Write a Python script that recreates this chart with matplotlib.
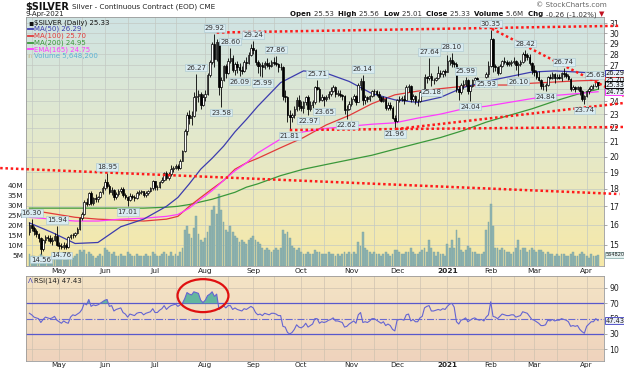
import numpy as np
import pandas as pd
import matplotlib
matplotlib.use('Agg')
import matplotlib.pyplot as plt
import matplotlib.colors as mcolors
import matplotlib.transforms as mtrans
from matplotlib.patches import Ellipse
from matplotlib.ticker import NullLocator, NullFormatter

plt.rcParams['font.family'] = ['DejaVu Sans']

# ---------------- data ----------------
first_day, last_day = '2020-04-14', '2021-04-09'
holidays = ['2020-05-25', '2020-07-03', '2020-09-07', '2020-11-26', '2020-12-25',
            '2021-01-01', '2021-01-18', '2021-02-15', '2021-04-02']

# daily (open, high, low, close)
apr20 = [(15.65,16.15,15.50,16.00),(16.00,16.30,15.70,15.85),(15.85,15.95,15.50,15.70),
         (15.70,15.80,15.35,15.55),(15.55,15.60,15.10,15.30),(15.30,15.35,14.56,14.80),
         (14.80,15.25,14.70,15.20),(15.20,15.45,15.05,15.35),(15.35,15.50,15.15,15.30),
         (15.30,15.45,15.05,15.15),(15.15,15.35,15.00,15.20),(15.20,15.60,15.15,15.40),
         (15.40,15.94,14.95,15.00)]
may20 = [(15.00,15.10,14.80,14.95),(14.95,15.05,14.76,14.90),(14.90,15.10,14.80,15.00),
         (15.00,15.05,14.80,14.90),(14.90,15.40,14.85,15.35),(15.35,15.55,15.25,15.50),
         (15.50,15.60,15.30,15.45),(15.45,15.65,15.35,15.60),(15.60,15.90,15.55,15.80),
         (15.80,16.40,15.75,16.35),(16.35,16.70,16.25,16.60),(16.60,17.35,16.55,17.25),
         (17.25,17.45,17.00,17.15),(17.15,17.80,17.10,17.75),(17.75,17.85,17.05,17.20),
         (17.20,17.55,17.10,17.45),(17.45,17.70,17.25,17.40),(17.40,17.60,17.25,17.55),
         (17.55,17.85,17.45,17.80),(17.80,18.20,17.70,18.05)]
jun20 = [(18.05,18.60,17.95,18.40),(18.40,18.95,18.05,18.20),(18.20,18.30,17.70,17.80),
         (17.80,18.10,17.65,17.95),(17.95,18.00,17.35,17.50),(17.50,17.80,17.40,17.70),
         (17.70,18.00,17.60,17.85),(17.85,18.10,17.75,18.00),(18.00,18.10,17.55,17.65),
         (17.65,17.75,17.40,17.55),(17.55,17.60,17.01,17.35),(17.35,17.75,17.30,17.60),
         (17.60,17.70,17.40,17.50),(17.50,17.65,17.30,17.45),(17.45,17.85,17.40,17.75),
         (17.75,17.95,17.65,17.80),(17.80,17.95,17.70,17.85),(17.85,17.90,17.55,17.65),
         (17.65,17.85,17.55,17.75),(17.75,17.95,17.65,17.85),(17.85,18.10,17.80,18.05),
         (18.05,18.55,17.95,18.45)]
jul20 = [(18.45,18.50,17.95,18.10),(18.10,18.25,17.95,18.10),(18.10,18.45,18.05,18.40),
         (18.40,18.70,18.35,18.55),(18.55,19.05,18.50,18.95),(18.95,19.10,18.55,18.65),
         (18.65,19.00,18.55,18.90),(18.90,19.45,18.80,19.20),(19.20,19.40,19.05,19.30),
         (19.30,19.55,19.20,19.40),(19.40,19.50,19.15,19.25),(19.25,19.85,19.20,19.75),
         (19.75,20.45,19.70,20.35),(20.35,21.90,20.30,21.75),(21.75,23.15,21.50,22.95),
         (22.95,23.30,22.30,22.70),(22.70,23.20,22.20,22.85),(22.85,24.70,22.80,24.35),
         (24.35,26.27,23.20,24.40),(24.40,24.90,23.90,24.55),(24.55,24.70,23.40,23.70),
         (23.70,24.60,23.60,24.30)]
aug20 = [(24.30,24.90,24.00,24.55),(24.55,26.30,24.50,26.15),(26.15,27.50,26.00,27.30),
         (27.30,29.10,27.10,28.90),(28.90,29.92,26.80,27.55),(27.55,29.40,27.40,29.15),
         (29.15,29.25,24.50,25.10),(25.10,26.00,23.58,25.70),(25.70,27.00,25.60,26.90),
         (26.90,27.10,25.90,26.30),(26.30,27.60,26.20,27.40),(27.40,28.60,27.20,27.60),
         (27.60,27.90,26.40,26.60),(26.60,27.30,26.15,27.10),(27.10,27.40,26.30,26.80),
         (26.80,27.20,26.09,26.60),(26.60,26.90,26.20,26.45),(26.45,27.50,26.40,27.30),
         (27.30,27.70,26.70,27.20),(27.20,28.20,27.10,27.90),(27.90,28.90,27.80,28.60)]
sep20 = [(28.60,29.24,28.00,28.40),(28.40,28.50,27.00,27.30),(27.30,27.50,26.30,26.90),
         (26.90,27.20,26.10,27.00),(27.00,27.30,25.99,26.80),(26.80,27.40,26.70,27.20),
         (27.20,27.60,26.80,27.00),(27.00,27.30,26.70,26.90),(26.90,27.50,26.85,27.30),
         (27.30,27.70,27.00,27.20),(27.20,27.86,26.90,27.10),(27.10,27.20,26.40,26.80),
         (26.80,27.20,26.60,26.85),(26.85,26.90,24.10,24.40),(24.40,24.90,23.90,24.30),
         (24.30,24.40,22.40,22.90),(22.90,23.30,21.81,22.80),(22.80,23.10,22.40,22.90),
         (22.90,23.60,22.70,23.40),(23.40,24.30,23.20,24.10),(24.10,24.50,23.30,23.60)]
oct20 = [(23.60,24.00,23.20,23.50),(23.50,24.00,23.10,23.90),(23.90,24.40,23.70,24.30),
         (24.30,24.50,22.97,23.40),(23.40,24.00,23.20,23.70),(23.70,24.10,23.50,23.90),
         (23.90,25.20,23.80,25.10),(25.10,25.71,24.90,25.00),(25.00,25.10,23.90,24.10),
         (24.10,24.60,24.00,24.30),(24.30,24.40,23.65,24.20),(24.20,24.50,24.00,24.30),
         (24.30,24.80,24.20,24.60),(24.60,25.10,24.40,24.80),(24.80,25.30,24.70,25.10),
         (25.10,25.20,24.30,24.60),(24.60,24.90,24.40,24.60),(24.60,24.90,24.30,24.50),
         (24.50,24.60,24.10,24.40),(24.40,24.50,23.00,23.30),(23.30,23.70,22.62,23.40),
         (23.40,24.00,23.30,23.80)]
nov20 = [(23.80,24.30,23.60,24.20),(24.20,24.60,24.00,24.40),(24.40,24.50,23.70,23.90),
         (23.90,25.50,23.90,25.30),(25.30,25.90,24.90,25.60),(25.60,26.14,23.70,24.10),
         (24.10,24.50,23.80,24.30),(24.30,24.40,23.90,24.20),(24.20,24.50,24.00,24.40),
         (24.40,24.90,24.30,24.80),(24.80,25.00,24.40,24.80),(24.80,24.90,24.40,24.60),
         (24.60,24.80,24.10,24.30),(24.30,24.40,23.90,24.00),(24.00,24.40,23.90,24.20),
         (24.20,24.30,23.30,23.50),(23.50,23.90,23.30,23.70),(23.70,23.90,23.30,23.50),
         (23.50,23.60,22.60,22.70),(22.70,22.90,21.96,22.50)]
dec20 = [(22.50,24.20,22.40,24.10),(24.10,24.40,23.90,24.20),(24.20,24.40,24.00,24.20),
         (24.20,24.50,23.80,24.10),(24.10,25.30,24.10,25.10),(25.10,25.40,24.70,25.20),
         (25.20,25.30,23.90,24.20),(24.20,24.60,24.00,24.40),(24.40,24.50,23.80,24.00),
         (24.00,24.20,23.60,24.00),(24.00,24.80,23.90,24.70),(24.70,25.00,24.40,24.90),
         (24.90,26.20,24.80,26.00),(26.00,26.10,25.50,25.90),(25.90,27.64,25.70,26.10),
         (26.10,26.30,25.18,25.70),(25.70,25.90,25.40,25.70),(25.70,26.00,25.60,25.90),
         (25.90,26.90,25.80,26.30),(26.30,26.60,26.00,26.20),(26.20,26.60,26.00,26.50),
         (26.50,26.70,26.10,26.40)]
jan21 = [(26.40,27.90,26.40,27.40),(27.40,27.70,27.00,27.50),(27.50,28.10,26.80,27.20),
         (27.20,27.40,26.80,27.10),(27.10,27.30,24.70,25.00),(25.00,25.20,24.10,24.70),
         (24.70,25.50,24.60,25.30),(25.30,25.70,25.00,25.40),(25.40,25.99,25.20,25.70),
         (25.70,25.80,24.60,24.80),(24.80,25.30,24.04,25.20),(25.20,25.80,25.10,25.70),
         (25.70,25.95,25.50,25.90),(25.90,26.00,25.30,25.50),(25.50,25.70,25.10,25.30),
         (25.30,25.60,25.20,25.40),(25.40,25.60,25.10,25.30),(26.00,26.40,25.93,26.20),
         (26.20,27.40,26.00,26.90)]
feb21 = [(26.90,30.35,26.80,29.40),(29.40,29.50,26.40,26.90),(26.90,27.10,26.50,26.80),
         (26.80,26.90,26.15,26.30),(26.30,27.10,26.20,26.90),(26.90,27.50,26.80,27.40),
         (27.40,27.70,27.10,27.30),(27.30,27.50,26.90,27.10),(27.10,27.40,26.90,27.20),
         (27.20,27.50,26.90,27.30),(27.30,27.70,27.10,27.40),(27.40,27.50,26.60,27.00),
         (27.00,27.30,26.10,27.10),(27.10,27.50,26.90,27.30),(27.30,28.20,27.20,28.00),
         (28.00,28.42,27.40,27.90),(27.90,28.10,27.50,27.70),(27.70,28.00,27.00,27.20),
         (27.20,27.30,26.20,26.60)]
mar21 = [(26.60,27.00,26.10,26.40),(26.40,26.60,25.80,26.00),(26.00,26.50,25.60,25.70),
         (25.70,25.80,25.00,25.20),(25.20,25.50,24.90,25.20),(25.20,25.50,24.84,25.30),
         (25.30,26.10,25.20,26.00),(26.00,26.20,25.80,25.90),(25.90,26.40,25.80,26.20),
         (26.20,26.30,25.50,25.90),(25.90,26.20,25.80,26.00),(26.00,26.20,25.80,25.90),
         (25.90,26.40,25.60,26.30),(26.30,26.74,26.00,26.20),(26.20,26.40,25.90,26.10),
         (26.10,26.20,25.70,25.80),(25.80,25.90,24.80,25.00),(25.00,25.30,24.90,25.10),
         (25.10,25.20,24.70,24.95),(24.95,25.20,24.90,25.10),(25.10,25.20,24.50,24.80),
         (24.80,24.90,24.00,24.20),(24.20,24.50,23.74,24.40)]
apr21 = [(24.40,24.90,24.30,24.80),(24.80,25.10,24.60,24.95),(24.95,25.30,24.90,25.20),
         (25.20,25.40,25.00,25.20),(25.20,25.63,25.10,25.59),(25.53,25.56,25.01,25.33)]

# daily volume, millions
vol_apr20 = [6,5,5,4,5,6,5,4,4,4,3,4,5]
vol_may20 = [4,4,3,3,4,5,4,5,6,8,7,8,6,7,6,5,4,5,6,5]
vol_jun20 = [9,8,7,6,7,5,5,6,5,5,7,6,5,5,6,5,5,5,6,5,5,7]
vol_jul20 = [6,5,5,6,7,6,5,7,5,6,5,7,9,18,20,16,14,19,25,16,13,12]
vol_aug20 = [14,17,20,28,30,26,36,28,22,18,17,20,17,15,14,12,13,12,11,13,14]
vol_sep20 = [15,13,12,11,9,8,9,8,7,8,9,8,9,18,16,17,14,10,9,8,9]
vol_oct20 = [7,6,6,7,6,6,8,7,7,6,6,6,7,6,6,5,6,5,6,7,6,7]
vol_nov20 = [6,7,6,12,10,17,9,8,7,6,7,6,6,5,6,7,6,5,6,8]
vol_dec20 = [8,7,6,6,7,7,9,7,6,6,7,8,9,7,13,9,7,5,7,6,6,5]
vol_jan21 = [11,9,13,9,18,14,8,7,8,10,9,7,7,6,6,6,7,18,22]
vol_feb21 = [31,20,9,9,8,9,8,7,7,6,7,9,13,8,9,9,7,8,9]
vol_mar21 = [8,7,8,8,7,6,7,6,6,5,6,5,6,6,5,5,6,7,5,5,6,7,6]
vol_apr21 = [5,4,6,5,5,5.6482]

# RSI(14) read daily
rsi_apr20 = [57,55,52,51,50,45,49,52,51,50,51,53,48]
rsi_may20 = [46,44,47,45,44,52,55,54,56,58,62,70,68,75,66,68,67,68,70,72]
rsi_jun20 = [74,75,66,67,60,62,63,64,58,56,52,56,55,54,57,58,58,55,57,58,59,63]
rsi_jul20 = [58,58,61,63,67,62,65,67,68,69,66,68,70,76,84,82,81,85,84,83,74,71]
rsi_aug20 = [74,80,82,85,79,82,62,64,67,64,67,67,62,64,62,61,60,63,62,64,66]
rsi_sep20 = [64,58,55,56,54,57,56,55,57,57,56,54,54,40,39,32,30,32,36,42,39]
rsi_oct20 = [38,40,44,39,41,43,50,50,44,46,45,46,48,49,51,47,47,46,45,39,40,43]
rsi_nov20 = [45,47,44,55,58,45,46,45,47,50,50,48,46,44,46,41,43,41,36,34]
rsi_dec20 = [48,49,49,48,55,56,47,49,46,46,51,53,64,66,67,60,60,61,62,61,63,62]
rsi_jan21 = [66,69,70,65,46,43,48,49,51,46,48,50,51,49,48,49,47,52,55]
rsi_feb21 = [72,53,52,50,53,56,55,54,54,55,55,52,53,54,59,58,57,53,49]
rsi_mar21 = [48,46,44,41,41,42,48,47,49,47,48,48,50,49,48,46,40,41,40,41,36,33,31]
rsi_apr21 = [40,43,46,46,50,47.43]

# moving averages read at sample dates
ma_dates = ['2020-04-14','2020-04-28','2020-05-12','2020-05-27','2020-06-10','2020-06-24',
            '2020-07-09','2020-07-16','2020-07-23','2020-07-30','2020-08-06','2020-08-13',
            '2020-08-20','2020-08-27','2020-09-03','2020-09-18','2020-10-02','2020-10-16',
            '2020-10-30','2020-11-13','2020-11-30','2020-12-14','2020-12-29','2021-01-13',
            '2021-01-28','2021-02-11','2021-02-26','2021-03-12','2021-03-26','2021-04-09']
ma50 = [16.1,15.6,15.05,15.1,15.9,16.3,17.0,17.5,18.3,19.2,19.9,20.7,21.7,22.6,23.6,25.5,
        26.5,26.3,25.6,24.6,24.1,23.9,24.3,25.1,25.6,26.0,26.4,26.5,26.4,26.29]
ma100 = [16.8,16.6,16.4,16.3,16.25,16.2,16.3,16.45,17.0,17.5,18.0,18.5,19.2,19.6,19.9,20.6,
         21.3,22.2,22.9,23.8,24.5,24.8,25.0,25.2,25.3,25.3,25.45,25.55,25.65,25.70]
ma200 = [16.9,16.9,16.9,16.9,16.9,16.9,16.95,17.0,17.1,17.25,17.4,17.6,17.8,18.1,18.3,18.8,
         19.2,19.5,19.8,20.1,20.5,20.9,21.3,21.8,22.4,22.9,23.4,24.0,24.55,24.95]
ema165 = [16.4,16.3,16.2,16.2,16.3,16.35,16.45,16.55,16.9,17.4,17.9,18.5,19.1,19.6,20.25,21.2,
          21.7,21.95,22.1,22.25,22.35,22.7,23.0,23.4,23.6,23.9,24.2,24.45,24.6,24.75]

# labelled highs / lows
label_dates = ['2020-04-15','2020-04-21','2020-04-30','2020-05-04','2020-06-02','2020-06-15',
               '2020-07-28','2020-08-07','2020-08-12','2020-08-18','2020-08-24','2020-09-01',
               '2020-09-08','2020-09-16','2020-09-24','2020-10-06','2020-10-12','2020-10-15',
               '2020-10-29','2020-11-09','2020-11-30','2020-12-21','2020-12-22','2021-01-06',
               '2021-01-14','2021-01-19','2021-01-28','2021-02-01','2021-02-18','2021-02-23',
               '2021-03-08','2021-03-18','2021-03-31','2021-04-08']
label_kinds = ['h','l','h','l','h','l','h','h','l','h','l','h','l','h','l','l','h','l',
               'l','h','l','h','l','h','h','l','l','h','l','h','l','h','l','h']

# analyst trend lines: (bar number, price) end points
trend_lines = [((82.0, 30.05), (258.4, 30.72)),
               ((202.5, 30.42), (260.2, 24.40)),
               ((114.0, 21.83), (260.2, 22.05)),
               ((160.5, 21.90), (260.2, 23.85)),
               ((-12.8, 19.27), (258.4, 17.70))]

# ---------------- assemble ----------------
dates = pd.bdate_range(first_day, last_day)
dates = dates[~dates.isin(pd.to_datetime(holidays))]
ohlc = np.array(apr20 + may20 + jun20 + jul20 + aug20 + sep20 + oct20 + nov20 + dec20
                + jan21 + feb21 + mar21 + apr21)
vol = np.array(vol_apr20 + vol_may20 + vol_jun20 + vol_jul20 + vol_aug20 + vol_sep20 + vol_oct20
               + vol_nov20 + vol_dec20 + vol_jan21 + vol_feb21 + vol_mar21 + vol_apr21, float)
rsi = np.array(rsi_apr20 + rsi_may20 + rsi_jun20 + rsi_jul20 + rsi_aug20 + rsi_sep20 + rsi_oct20
               + rsi_nov20 + rsi_dec20 + rsi_jan21 + rsi_feb21 + rsi_mar21 + rsi_apr21, float)
n = min(len(dates), len(ohlc), len(vol), len(rsi))
dates = dates[:n]; ohlc = ohlc[:n]; vol = vol[:n]; rsi = rsi[:n]
o, h, l, c = ohlc[:, 0], ohlc[:, 1], ohlc[:, 2], ohlc[:, 3]
x = np.arange(n)

def idx_of(ds):
    return dates.get_indexer(pd.to_datetime(ds))

ma_x = idx_of(ma_dates)

m = dates.month.values
month_starts = [i for i in range(1, n) if m[i] != m[i - 1]]
mid_months = [i for i in range(1, n) if dates[i].day >= 15 and dates[i - 1].day < 15]
grid_x = sorted(month_starts + mid_months)
month_labels = ['2021' if dates[i].month == 1 else dates[i].strftime('%b') for i in month_starts]

# ---------------- figure ----------------
W, H = 624, 372
fig = plt.figure(figsize=(W / 100, H / 100), dpi=100)
fig.patch.set_facecolor('white')
L, R = 26, 604
MT, MB = 17, 266
RT, RB = 276, 361

def rect(top, bottom):
    return [L / W, 1 - bottom / H, (R - L) / W, (bottom - top) / H]

def bg(rc, colors):
    a = fig.add_axes(rc)
    cmap = mcolors.LinearSegmentedColormap.from_list('g', colors)
    a.imshow(np.linspace(0, 1, 256).reshape(-1, 1), aspect='auto', cmap=cmap,
             extent=[0, 1, 0, 1], interpolation='bilinear')
    a.set_axis_off()
    return a

xlim = (-1.5, n + 1.6)
bg(rect(MT, MB), ['#cfe3e3', '#e4e9cb', '#f6e8a8'])
ax_v = fig.add_axes(rect(MT, MB))
ax_v.patch.set_visible(False)
ax_p = ax_v.twinx()
ax_v.set_xlim(*xlim)
ax_v.set_ylim(0, 124.5e6)
ax_p.set_yscale('log')
ax_p.set_ylim(13.98, 31.62)

gridc = '#c3c9c3'
price_ticks = list(range(15, 32))
bt = mtrans.blended_transform_factory(ax_v.transAxes, ax_p.transData)
for p in price_ticks:
    ax_v.plot([0, 1], [p, p], transform=bt, color=gridc, lw=0.5, zorder=0.5)
for gx in grid_x:
    ax_v.axvline(gx, color=gridc, lw=0.5, zorder=0.5)

ax_v.bar(x, vol * 1e6, width=0.8, color='#8fb4b1', edgecolor='#7da4a1', lw=0.3, zorder=2)

# moving averages
ax_p.plot(ma_x, ma200, color='#3a983a', lw=0.9, zorder=3)
ax_p.plot(ma_x, ma100, color='#e23a3a', lw=0.9, zorder=3)
ax_p.plot(ma_x, ema165, color='#ff3cff', lw=0.9, zorder=3)
ax_p.plot(ma_x, ma50, color='#3c3cae', lw=0.9, zorder=3)

# candles
ax_p.vlines(x, l, h, color='black', lw=0.6, zorder=4)
up = c >= o
bb = np.minimum(o, c)
bh = np.maximum(np.abs(c - o), 0.03)
ax_p.bar(x[up], bh[up], bottom=bb[up], width=0.7, facecolor='white', edgecolor='black', lw=0.5, zorder=5)
ax_p.bar(x[~up], bh[~up], bottom=bb[~up], width=0.7, facecolor='black', edgecolor='black', lw=0.5, zorder=5)

# trend lines
for (x0, y0), (x1, y1) in trend_lines:
    ax_p.plot([x0, x1], [y0, y1], color='#ff1a1a', lw=1.8, ls=(0, (1, 1.1)),
              clip_on=False, zorder=6, solid_capstyle='butt', dash_capstyle='butt')

# price labels
for d, k in zip(label_dates, label_kinds):
    i = idx_of([d])[0]
    v = h[i] if k == 'h' else l[i]
    ax_p.annotate(f'{v:.2f}', xy=(i, v), xytext=(0, 3 if k == 'h' else -3),
                  textcoords='offset pixels', ha='center', va='bottom' if k == 'h' else 'top',
                  fontsize=5.0, color='#333333', zorder=8,
                  bbox=dict(boxstyle='square,pad=0.12', fc='#d9ebf1', ec='#a8c6d0', lw=0.4))

# axes styling main
for s in ax_v.spines.values():
    s.set_color('#9a9a9a'); s.set_linewidth(0.6)
for s in ax_p.spines.values():
    s.set_visible(False)
vt = [5e6, 10e6, 15e6, 20e6, 25e6, 30e6, 35e6, 40e6]
ax_v.set_yticks(vt)
ax_v.set_yticklabels([f'{int(t / 1e6)}M' for t in vt])
ax_v.tick_params(axis='y', length=0, pad=2, labelsize=5.3, labelcolor='#222222')
ax_v.set_xticks(month_starts)
ax_v.set_xticklabels(month_labels)
ax_v.tick_params(axis='x', length=0, pad=1.5, labelsize=5.4, labelcolor='#222222')
for t in ax_v.get_xticklabels():
    if t.get_text() == '2021':
        t.set_fontweight('bold')
ax_p.yaxis.set_minor_locator(NullLocator())
ax_p.yaxis.set_minor_formatter(NullFormatter())
ax_p.set_yticks(price_ticks)
ax_p.set_yticklabels([str(t) for t in price_ticks])
ax_p.tick_params(axis='y', length=2, width=0.5, pad=2, labelsize=5.6, labelcolor='#222222', color='#888888')
ax_p.set_xlim(*xlim)

# right value boxes
rb = mtrans.blended_transform_factory(ax_p.transAxes, ax_p.transData)
boxes = [(ma50[-1], '#3c3cae'), (ma100[-1], '#e23a3a'), (ma200[-1], '#3a983a'),
         (ema165[-1], '#ff3cff'), (c[-1], '#000000')]
for v, col in boxes:
    ax_p.text(1.003, v, f'{v:.2f}', transform=rb, ha='left', va='center', fontsize=4.8,
              color='#111111', clip_on=False, zorder=9,
              bbox=dict(boxstyle='square,pad=0.1', fc='#e9f0f6', ec=col, lw=0.7))
vb = mtrans.blended_transform_factory(ax_v.transAxes, ax_v.transData)
ax_v.text(1.003, vol[-1] * 1e6, f'{int(round(vol[-1] * 1e6))}', transform=vb, ha='left', va='center',
          fontsize=3.6, color='#222222', clip_on=False, zorder=9,
          bbox=dict(boxstyle='square,pad=0.1', fc='#e4f1f0', ec='#8fb4b1', lw=0.6))

# legend
leg = [(f'$SILVER (Daily) {c[-1]:.2f}', '#111111', None),
       (f'MA(50) {ma50[-1]:.2f}', '#3c3cae', '#3c3cae'),
       (f'MA(100) {ma100[-1]:.2f}', '#e23a3a', '#e23a3a'),
       (f'MA(200) {ma200[-1]:.2f}', '#3a983a', '#3a983a'),
       (f'EMA(165) {ema165[-1]:.2f}', '#ff3cff', '#ff3cff'),
       (f'Volume {int(round(vol[-1] * 1e6)):,}', '#5ab2d6', None)]
pw = R - L
ph = MB - MT
for k, (txt, col, lc) in enumerate(leg):
    ypx = 22.3 + 6.75 * k
    ya = (MB - ypx) / ph
    if k == 0:
        ax_p.text(2.0 / pw, ya, '\u25AA', transform=ax_p.transAxes, fontsize=5.5, color='#111111',
                  va='center', ha='left', zorder=9)
    elif lc is not None:
        ax_p.plot([2 / pw, 7 / pw], [ya, ya], transform=ax_p.transAxes, color=lc, lw=1.3, zorder=9)
    else:
        ax_p.text(1.5 / pw, ya, '\u0131l\u0131', transform=ax_p.transAxes, fontsize=4.5, color='#c8c090',
                  va='center', ha='left', zorder=9)
    ax_p.text(8 / pw, ya, txt, transform=ax_p.transAxes, fontsize=5.0,
              fontweight='normal', color=col, va='center', ha='left', zorder=9)

# ---------------- RSI panel ----------------
bg(rect(RT, RB), ['#f4e4c5', '#efd3bd'])
ax_r = fig.add_axes(rect(RT, RB))
ax_r.patch.set_visible(False)
ax_r.set_xlim(*xlim)
ax_r.set_ylim(-5.2, 105.6)
for gx in grid_x:
    ax_r.axvline(gx, color='#cfc2b0', lw=0.5, zorder=0.5)
for gy in [10, 90]:
    ax_r.axhline(gy, color='#cfc2b0', lw=0.5, zorder=0.5)
ax_r.axhline(70, color='#5858cc', lw=0.9, zorder=1)
ax_r.axhline(30, color='#5858cc', lw=0.9, zorder=1)
ax_r.axhline(50, color='#6a6ad0', lw=0.8, ls='-.', zorder=1)
ax_r.fill_between(x, 70, rsi, where=rsi > 70, interpolate=True, color='#63b69f', lw=0, zorder=2)
ax_r.fill_between(x, 30, rsi, where=rsi < 30, interpolate=True, color='#63b69f', lw=0, zorder=2)
ax_r.plot(x, rsi, color='#6464d2', lw=0.8, zorder=3)
ax_r.add_patch(Ellipse((76, 80), 22.3, 43, fill=False, ec='#e01010', lw=1.6, zorder=6, clip_on=False))
for s in ax_r.spines.values():
    s.set_color('#9a9a9a'); s.set_linewidth(0.6)
ax_r.yaxis.tick_right()
ax_r.set_yticks([10, 30, 50, 70, 90])
ax_r.tick_params(axis='y', length=2, width=0.5, pad=2, labelsize=5.6, labelcolor='#222222', color='#888888')
ax_r.set_xticks(month_starts)
ax_r.set_xticklabels(month_labels)
ax_r.tick_params(axis='x', length=0, pad=1.0, labelsize=5.2, labelcolor='#222222')
for t in ax_r.get_xticklabels():
    if t.get_text() == '2021':
        t.set_fontweight('bold')
rr = mtrans.blended_transform_factory(ax_r.transAxes, ax_r.transData)
ax_r.text(1.003, rsi[-1], f'{rsi[-1]:.2f}', transform=rr, ha='left', va='center', fontsize=4.8,
          color='#222222', clip_on=False, zorder=9,
          bbox=dict(boxstyle='square,pad=0.1', fc='#e9edf8', ec='#5858cc', lw=0.7))
ya_r = (RB - 281) / (RB - RT)
ax_r.text(2 / pw, ya_r, '\u039b', transform=ax_r.transAxes, fontsize=5.0,
          color='#4040c0', va='center', ha='left', zorder=9)
ax_r.text(8 / pw, ya_r, f'RSI(14) {rsi[-1]:.2f}', transform=ax_r.transAxes,
          fontsize=5.0, color='#222222', va='center', ha='left', zorder=9)

# ---------------- header texts ----------------
renderer = fig.canvas.get_renderer()
t_sym = fig.text(25 / W, 1 - 6.5 / H, '$SILVER', fontsize=7.0, fontweight='bold', va='center',
                 ha='left', color='#111111')
sym_w = t_sym.get_window_extent(renderer=renderer).width
fig.text((25 + sym_w + 3) / W, 1 - 6.5 / H, 'Silver - Continuous Contract (EOD) CME', fontsize=5.2,
         va='center', ha='left', color='#222222')
fig.text(25 / W, 1 - 14.3 / H, f'{dates[-1].day}-{dates[-1].strftime("%b-%Y")}', fontsize=5.0,
         va='center', ha='left', color='#222222')
fig.text(607 / W, 1 - 5 / H, '\u00a9 StockCharts.com', fontsize=5.2, va='center', ha='right', color='#666666')

chg = c[-1] - c[-2]
pct = chg / c[-2] * 100
pieces = [('Open ', 'bold', '#111111'), (f'{o[-1]:.2f}  ', 'normal', '#333333'),
          ('High ', 'bold', '#111111'), (f'{h[-1]:.2f}  ', 'normal', '#333333'),
          ('Low ', 'bold', '#111111'), (f'{l[-1]:.2f}  ', 'normal', '#333333'),
          ('Close ', 'bold', '#111111'), (f'{c[-1]:.2f}  ', 'normal', '#333333'),
          ('Volume ', 'bold', '#111111'), (f'{vol[-1]:.1f}M  ', 'normal', '#333333'),
          ('Chg ', 'bold', '#111111'), (f'{chg:.2f} ({pct:.2f}%) ', 'normal', '#333333'),
          ('\u25BC', 'normal', '#c01020')]
fs_hdr = 5.0
objs = []
total = 0.0
for txt, wgt, col in pieces:
    t = fig.text(0, 1 - 14.3 / H, txt, fontsize=fs_hdr, fontweight=wgt, color=col, va='center', ha='left')
    objs.append(t)
    total += t.get_window_extent(renderer=renderer).width
xp = 604.0 - total
for t in objs:
    t.set_x(xp / W)
    xp += t.get_window_extent(renderer=renderer).width

fig.savefig('out.png', dpi=100, facecolor='white')
